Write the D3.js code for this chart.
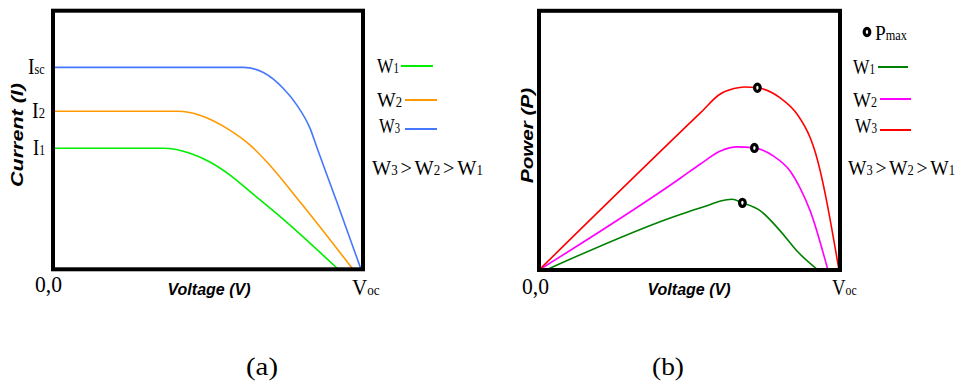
<!DOCTYPE html>
<html>
<head>
<meta charset="utf-8">
<script src="https://cdn.jsdelivr.net/npm/d3@7"></script>
<style>
    body { margin: 0; background: #fff; }
    svg { display: block; }
    .serif { font-family: "Liberation Serif", "Times New Roman", serif; fill: #000; }
    .axis-title { font-family: "Liberation Sans", Arial, sans-serif; font-weight: bold; font-style: italic; font-size: 16px; fill: #000; }
</style>
</head>
<body>
<div id="chart"></div>
<script>

// series (irradiance levels)
const seriesSubs = ["1", "2", "3"];

// I-V curves: [voltage (% of Voc), current (% of panel height)]
const ivW1 = [[0, 46.8], [35.9, 46.8], [44.7, 44.8], [51.1, 41.4], [57.6, 36.3], [64.1, 29.9], [74.8, 19.3], [92.6, 0]];
const ivW2 = [[0, 61.1], [40.5, 61.1], [47.9, 59.5], [56.6, 54.4], [64.1, 47.9], [69.6, 41.3], [80.3, 25.9], [97.4, 0]];
const ivW3 = [[0, 78.1], [61.8, 78.1], [68.3, 76.1], [74.8, 69.9], [79.3, 63.3], [83.5, 54.4], [85.8, 46.7], [92.2, 25.9], [100, 0]];

// P-V curves: [voltage (% of Voc), power (% of panel height)]
const pvW1 = [[2.3, 0], [44.0, 20.2], [50.5, 22.8], [56.5, 25.0], [60.5, 26.6], [64.3, 27.3], [67.8, 25.9], [73.8, 22.8], [80.4, 15.1], [86.0, 7.3], [93.0, 0]];
const pvW2 = [[0, 0], [47.2, 35.5], [53.8, 40.9], [60.5, 45.9], [66.0, 47.5], [71.8, 47.1], [78.1, 44.0], [83.7, 38.2], [87.0, 31.7], [90.4, 22.8], [96.3, 0]];
const pvW3 = [[0, 0], [53.7, 60.5], [60.3, 67.8], [65.0, 70.0], [68.5, 70.6], [72.8, 70.3], [80.4, 66.4], [86.0, 60.2], [90.4, 51.0], [91.8, 46.5], [100, 0]];

// maximum power points
const pmaxV = [67.8, 71.8, 72.8];
const pmaxP = [25.9, 47.1, 70.3];

// current tick labels
const iTickMain = ["I", "I", "I"];
const iTickSub = ["sc", "2", "1"];
const iTickValues = [78.1, 61.1, 46.8];

const ivColors = ["#00ee00", "#ff9900", "#4577ff"];
const pvColors = ["#008000", "#ff00ff", "#ff0000"];

const width = 960, height = 383;

const svg = d3.select("#chart").append("svg")
    .attr("width", width)
    .attr("height", height);

// helper: serif text built from parts [text, size, dx], squeezed horizontally to a width
function squeezedText(g, x, y, parts, len, anchor) {
    let wrap = g.append("g");
    let t = wrap.append("text").attr("class", "serif").attr("x", 0).attr("y", 0);
    parts.forEach(p => t.append("tspan").attr("dx", p[2] || 0).style("font-size", p[1] + "px").text(p[0]));
    let natural = t.node().getBBox().width || 1;
    let sx = len ? len / natural : 1;
    let x0 = anchor === "end" ? x - natural * sx : (anchor === "middle" ? x - natural * sx / 2 : x);
    wrap.attr("transform", `translate(${x0},${y}) scale(${sx},1)`);
    return wrap;
}

function subText(g, x, y, main, sub, size, subSize, len, anchor) {
    return squeezedText(g, x, y, [[main, size], [sub, subSize]], len, anchor);
}

const compareParts = [["W", 22], ["3", 14], [">", 22, 3], ["W", 22, 3], ["2", 14], [">", 22, 3], ["W", 22, 3], ["1", 14]];

// ****************************************
//             (a) I-V panel
// ****************************************
const ga = svg.append("g");
const xI = d3.scaleLinear().domain([0, 100]).range([53, 361]);
const yI = d3.scaleLinear().domain([0, 100]).range([269.3, 10.7]);

const lineI = d3.line().x(d => xI(d[0])).y(d => yI(d[1])).curve(d3.curveMonotoneX);

ga.selectAll("path.iv").data([ivW1, ivW2, ivW3]).enter().append("path")
    .attr("class", "iv")
    .attr("fill", "none")
    .attr("stroke", (d, i) => ivColors[i])
    .attr("stroke-width", 1.6)
    .attr("d", lineI);

ga.append("rect")
    .attr("x", 53).attr("y", 10.7)
    .attr("width", 310).attr("height", 258.6)
    .attr("fill", "none").attr("stroke", "#000").attr("stroke-width", 4);

const iTickLen = [17, 13, 12];
iTickValues.forEach((v, i) => {
    subText(ga, 45, yI(v) + 7, iTickMain[i], iTickSub[i], 24, 15, iTickLen[i], "end");
});

ga.append("text").attr("class", "axis-title")
    .attr("transform", "translate(23,135) rotate(-90)")
    .attr("text-anchor", "middle")
    .attr("textLength", 104).attr("lengthAdjust", "spacingAndGlyphs")
    .text("Current (I)");

ga.append("text").attr("class", "axis-title")
    .attr("x", 209).attr("y", 295)
    .attr("text-anchor", "middle")
    .text("Voltage (V)");

squeezedText(ga, 35, 292, [["0,0", 23]], 27);
subText(ga, 352, 295, "V", "oc", 24, 15, 28);

// legend
const legA = [[377, 73, 401, 433, 66], [377, 107, 405, 437, 100], [379, 133, 405, 437, 129]];
const legALen = [22, 25, 21];
legA.forEach((p, i) => {
    subText(ga, p[0], p[1], "W", seriesSubs[i], 22, 14, legALen[i]);
    ga.append("line").attr("x1", p[2]).attr("x2", p[3]).attr("y1", p[4]).attr("y2", p[4])
        .attr("stroke", ivColors[i]).attr("stroke-width", 2);
});
squeezedText(ga, 372, 175, compareParts, 111);

squeezedText(ga, 262, 375, [["(a)", 26]], 32, "middle");

// ****************************************
//             (b) P-V panel
// ****************************************
const gb = svg.append("g");
const xP = d3.scaleLinear().domain([0, 100]).range([539, 839]);
const yP = d3.scaleLinear().domain([0, 100]).range([270, 10.8]);

const lineP = d3.line().x(d => xP(d[0])).y(d => yP(d[1])).curve(d3.curveMonotoneX);

gb.selectAll("path.pv").data([pvW1, pvW2, pvW3]).enter().append("path")
    .attr("class", "pv")
    .attr("fill", "none")
    .attr("stroke", (d, i) => pvColors[i])
    .attr("stroke-width", 1.6)
    .attr("d", lineP);

gb.append("rect")
    .attr("x", 539).attr("y", 10.8)
    .attr("width", 301).attr("height", 259.2)
    .attr("fill", "none").attr("stroke", "#000").attr("stroke-width", 4);

gb.selectAll("ellipse.pmax").data(pmaxV).enter().append("ellipse")
    .attr("class", "pmax")
    .attr("cx", d => xP(d))
    .attr("cy", (d, i) => yP(pmaxP[i]))
    .attr("rx", 2.8).attr("ry", 3.6)
    .attr("fill", "#fff").attr("stroke", "#000").attr("stroke-width", 3.2);

gb.append("text").attr("class", "axis-title")
    .attr("transform", "translate(533,135.5) rotate(-90)")
    .attr("text-anchor", "middle")
    .attr("textLength", 95).attr("lengthAdjust", "spacingAndGlyphs")
    .text("Power (P)");

gb.append("text").attr("class", "axis-title")
    .attr("x", 689).attr("y", 295)
    .attr("text-anchor", "middle")
    .text("Voltage (V)");

squeezedText(gb, 522, 294, [["0,0", 23]], 27);
subText(gb, 832, 295, "V", "oc", 24, 15, 25);

// legend
gb.append("ellipse").attr("cx", 867).attr("cy", 32).attr("rx", 2.8).attr("ry", 3.6)
    .attr("fill", "#fff").attr("stroke", "#000").attr("stroke-width", 3.2);
subText(gb, 875, 40, "P", "max", 22, 14, 32);

const legB = [[853, 74, 878, 908, 67], [853, 107, 880, 911, 99], [855, 133, 880, 911, 130]];
const legBLen = [22, 24, 22];
legB.forEach((p, i) => {
    subText(gb, p[0], p[1], "W", seriesSubs[i], 22, 14, legBLen[i]);
    gb.append("line").attr("x1", p[2]).attr("x2", p[3]).attr("y1", p[4]).attr("y2", p[4])
        .attr("stroke", pvColors[i]).attr("stroke-width", 2);
});
squeezedText(gb, 848, 175, compareParts, 107);

squeezedText(gb, 668, 375, [["(b)", 26]], 32, "middle");

</script>
</body>
</html>
